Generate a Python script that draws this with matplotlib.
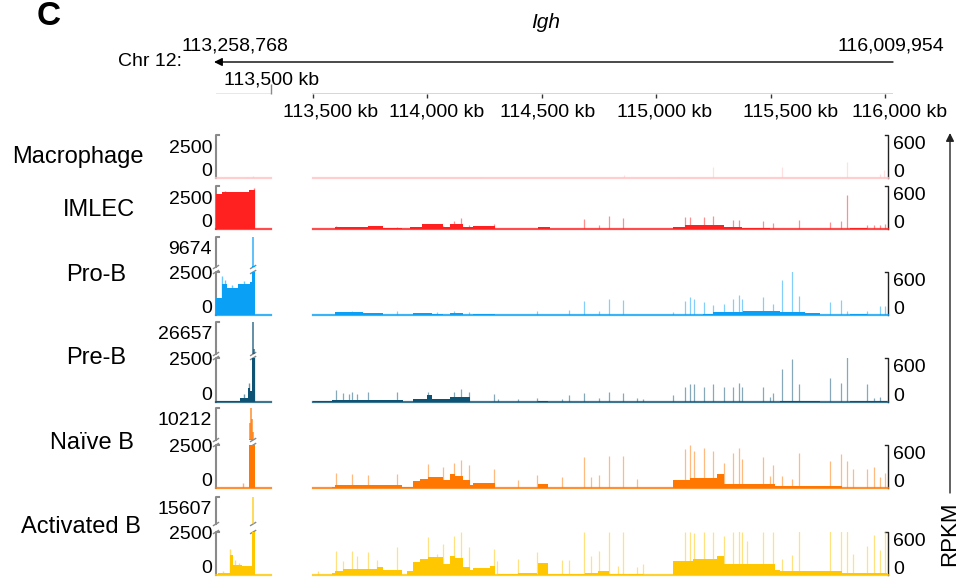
import matplotlib
matplotlib.use('Agg')
import matplotlib.pyplot as plt

plt.rcParams['font.family'] = ['Liberation Sans', 'DejaVu Sans']

W, H = 966, 581

# ---------------- data: positions in kb, signal in RPKM ----------------
chr_start = 113258.768
chr_end = 116009.954
split_kb = 113500.0          # left (zoomed y) panel | right panel
hdr_ticks = [113500, 114000, 114500, 115000, 115500, 116000]
hdr_labels = ['113,500 kb', '114,000 kb', '114,500 kb', '115,000 kb', '115,500 kb', '116,000 kb']

track_names = ['Macrophage', 'IMLEC', 'Pro-B', 'Pre-B', 'Naïve B', 'Activated B']
track_colors = ['#FFC2C2', '#FF2020', '#0AA0F6', '#0E5274', '#FF7600', '#FFC700']
left_ticks = [0, 2500]
left_max = [2500, 2500, 9674, 26657, 10212, 15607]
right_ticks = [0, 600]

# left panel (113,258,768 - 113,500 kb)
mac_left = [(113258.8, 113430, 15)]
mac_left_spk = [(113395, 40), (113419, 110)]
imlec_left = [(113258.8, 113283, 2050), (113283, 113360, 2150), (113360, 113405, 2170), (113405, 113429, 2250)]
imlec_left_spk = [(113300, 2200), (113427, 2400)]
prob_left = [(113258.8, 113283, 990), (113283, 113305, 1790), (113305, 113356, 1590),
             (113356, 113407, 1790), (113407, 113417, 1890), (113417, 113429, 2700)]
prob_left_spk = [(113286, 2260), (113296, 2050), (113330, 1750), (113380, 1950), (113421, 9674)]
preb_left = [(113258.8, 113364, 40), (113364, 113400, 200), (113400, 113407, 800),
             (113407, 113415, 600), (113415, 113429, 2700)]
preb_left_spk = [(113380, 450), (113402, 1100), (113425, 6000), (113421, 26657)]
naive_left = [(113258.8, 113400, 20), (113403, 113429, 2700)]
naive_left_spk = [(113378, 290), (113409, 6500), (113416, 7500), (113420, 4500), (113413, 10212)]
act_left = [(113258.8, 113269, 20), (113269, 113320, 130), (113320, 113334, 1150),
            (113334, 113371, 600), (113371, 113415, 500), (113415, 113429, 2700)]
act_left_spk = [(113290, 250), (113322, 1500), (113340, 900), (113360, 700), (113421, 15607)]
peak_kb = 113421   # clipped peak that gets the break marks

# right panel (113,500 - 116,010 kb)
mac_blocks = []
mac_spk = [(114234, 15), (114861, 40), (115100, 12), (115247, 160), (115550, 160),
           (115833, 220), (115978, 50), (115994, 110)]

imlec_blocks = [(113596, 113742, 25), (113742, 113807, 35), (113807, 113888, 20), (113924, 113975, 30),
                (113975, 114070, 65), (114070, 114099, 30), (114099, 114157, 75), (114157, 114201, 25),
                (114201, 114296, 40), (114485, 114536, 30), (115072, 115126, 30), (115126, 115298, 50),
                (115298, 115374, 25), (115374, 115498, 20), (115847, 115920, 15)]
imlec_spk = [(113601, 35), (113669, 30), (113742, 25), (113869, 30), (114067, 35), (114116, 110),
             (114147, 160), (114183, 60), (114292, 75), (114686, 145), (114752, 60), (114795, 180),
             (114856, 160), (115126, 170), (115148, 170), (115210, 170), (115250, 175), (115337, 130),
             (115363, 130), (115466, 110), (115512, 90), (115626, 120), (115760, 95), (115807, 110),
             (115833, 480), (115920, 60), (115952, 55), (115978, 60), (116000, 70)]

prob_blocks = [(113596, 113720, 35), (113720, 113807, 25), (113938, 114019, 30), (114019, 114070, 20),
               (114099, 114157, 25), (114201, 114296, 8), (115206, 115250, 15), (115250, 115381, 45),
               (115381, 115541, 55), (115541, 115650, 40), (115650, 115716, 25), (115847, 115920, 15)]
prob_spk = [(113601, 45), (113633, 40), (113669, 50), (113869, 50), (114041, 40), (114116, 50),
            (114183, 45), (114478, 50), (114620, 70), (114686, 195), (114752, 60), (114795, 230),
            (114856, 215), (115072, 40), (115126, 195), (115148, 255), (115167, 225), (115210, 185),
            (115250, 140), (115298, 150), (115337, 225), (115363, 275), (115374, 225), (115466, 245),
            (115512, 150), (115549, 490), (115595, 620), (115626, 270), (115760, 180), (115807, 215),
            (115833, 60), (115920, 60), (115978, 120), (116000, 125)]

preb_blocks = [(113501, 113582, 10), (113582, 113895, 25), (113938, 113997, 40), (113997, 114019, 90),
               (114019, 114099, 40), (114099, 114186, 70), (114485, 114529, 15), (115541, 115716, 15),
               (115847, 116008, 20)]
preb_spk = [(113601, 160), (113633, 120), (113659, 110), (113669, 130), (113694, 110), (113742, 130),
            (113869, 130), (114001, 135), (114116, 135), (114147, 175), (114183, 130), (114292, 110),
            (114310, 40), (114397, 35), (114478, 60), (114587, 40), (114620, 95), (114686, 125),
            (114752, 55), (114795, 135), (114856, 125), (114915, 50), (114944, 40), (115072, 95),
            (115126, 205), (115148, 250), (115167, 240), (115210, 205), (115250, 250), (115298, 205),
            (115337, 205), (115363, 260), (115374, 200), (115466, 205), (115498, 70), (115512, 125),
            (115549, 450), (115595, 590), (115626, 245), (115760, 330), (115807, 260), (115833, 620),
            (115920, 245), (115952, 60), (115978, 70)]

naive_blocks = [(113582, 113596, 20), (113596, 113888, 45), (113888, 113938, 15), (113938, 113968, 100),
                (113968, 114004, 125), (114004, 114070, 160), (114070, 114099, 115), (114099, 114121, 195),
                (114121, 114157, 170), (114157, 114186, 115), (114186, 114201, 45), (114201, 114296, 70),
                (114485, 114529, 55), (115072, 115148, 115), (115148, 115265, 145), (115265, 115297, 195),
                (115297, 115374, 60), (115374, 115520, 55), (115520, 115541, 25), (115541, 115811, 25)]
naive_spk = [(113601, 205), (113669, 200), (113742, 175), (113869, 195), (114001, 340), (114067, 295),
             (114116, 355), (114147, 395), (114183, 315), (114292, 265), (114397, 115), (114478, 180),
             (114587, 160), (114686, 430), (114715, 160), (114752, 180), (114795, 450), (114856, 450),
             (114915, 125), (115126, 545), (115148, 600), (115167, 515), (115210, 565), (115250, 515),
             (115298, 345), (115337, 490), (115363, 565), (115374, 410), (115466, 430), (115498, 170),
             (115512, 320), (115549, 165), (115595, 130), (115626, 490), (115760, 375), (115807, 475),
             (115833, 370), (115862, 270), (115920, 270), (115952, 290), (115978, 160), (116000, 210)]

act_blocks = [(113582, 113596, 30), (113596, 113633, 55), (113633, 113778, 85), (113778, 113807, 105),
              (113807, 113888, 70), (113909, 113938, 55), (113938, 113968, 180), (113968, 114004, 225),
              (114004, 114070, 250), (114070, 114099, 155), (114099, 114121, 260), (114121, 114157, 240),
              (114157, 114186, 115), (114186, 114201, 75), (114201, 114274, 100), (114274, 114296, 120),
              (114310, 114397, 15), (114397, 114478, 25), (114485, 114529, 165), (114529, 114689, 10),
              (114689, 114744, 25), (114744, 114795, 60), (114795, 114944, 10), (115072, 115162, 195),
              (115162, 115265, 225), (115265, 115297, 270), (115297, 115520, 160), (115520, 115541, 75),
              (115541, 115811, 50), (115811, 116008, 25)]
act_spk = [(113523, 60), (113601, 330), (113633, 200), (113669, 340), (113694, 260), (113742, 320),
           (113778, 210), (113869, 385), (114001, 525), (114041, 300), (114067, 430), (114116, 545),
           (114147, 600), (114183, 390), (114292, 360), (114306, 200), (114397, 230), (114478, 320),
           (114587, 210), (114620, 210), (114686, 600), (114715, 260), (114752, 330), (114795, 600),
           (114835, 120), (114856, 600), (114915, 110), (114944, 160), (115126, 600), (115148, 600),
           (115167, 590), (115210, 600), (115250, 600), (115298, 545), (115337, 605), (115363, 615),
           (115374, 605), (115395, 470), (115466, 600), (115512, 600), (115549, 230), (115595, 280),
           (115626, 620), (115760, 620), (115807, 620), (115833, 620), (115862, 300), (115920, 400),
           (115952, 560), (115978, 350), (116000, 620)]

left_data = [(mac_left, mac_left_spk), (imlec_left, imlec_left_spk), (prob_left, prob_left_spk),
             (preb_left, preb_left_spk), (naive_left, naive_left_spk), (act_left, act_left_spk)]
right_data = [(mac_blocks, mac_spk), (imlec_blocks, imlec_spk), (prob_blocks, prob_spk),
              (preb_blocks, preb_spk), (naive_blocks, naive_spk), (act_blocks, act_spk)]

# ---------------- layout (pixels, y from top) ----------------
KBPX = (885 - 313) / 2500.0
LX0 = 216
LX1 = LX0 + (split_kb - chr_start) * KBPX
RX0, RX1 = 313, 888
# (upper_top, upper_bottom, top, base)
rows = [(None, None, 135, 178), (None, None, 186, 229), (237, 267, 272, 315),
        (322, 354, 358, 402), (408, 440, 445, 488), (497, 524, 532, 575)]
label_xy = [(78, 157), (99, 210), (96, 275), (96, 358), (92, 443), (81, 527)]
hdr_label_dx = [18, 9, 6, 8, 20, 15]
GRAY = '#8a8a8a'


def px_axes(x0, y0, x1, y1):
    a = fig.add_axes([x0 / W, 1 - y1 / H, (x1 - x0) / W, (y1 - y0) / H])
    a.set_axis_off()
    return a


def draw(ax, blocks, spikes, color, base=True, spk_lw=0.9, spk_a=0.5):
    if blocks:
        s = [b[0] for b in blocks]
        ax.bar(s, [b[2] for b in blocks], width=[b[1] - b[0] for b in blocks],
               align='edge', color=color, linewidth=0)
    if spikes:
        ax.vlines([p for p, v in spikes], 0, [v for p, v in spikes],
                  colors=color, lw=spk_lw, alpha=spk_a)
    if base:
        ax.axhline(0, color=color, lw=1.6, alpha=0.8, clip_on=False)


def ylab(ax, val, txt, side, dy):
    x, dx, ha = (0, -4, 'right') if side == 'l' else (1, 5, 'left')
    ax.annotate(txt, xy=(x, val), xycoords=('axes fraction', 'data'), xytext=(dx, dy),
                textcoords='offset pixels', ha=ha, va='baseline', fontsize=14)


fig = plt.figure(figsize=(W / 100, H / 100), dpi=100)
ov = fig.add_axes([0, 0, 1, 1])
ov.set_xlim(0, W)
ov.set_ylim(H, 0)
ov.set_axis_off()

# header
ov.text(49, 1, 'C', fontsize=24, fontweight='bold', ha='center', va='top')
ov.text(546, 23, 'Igh', fontsize=15, style='italic', ha='center', va='center')
ov.text(150, 62, 'Chr 12:', fontsize=14, ha='center', va='center')
ov.text(235, 46, f'{round(chr_start * 1000):,}', fontsize=14, ha='center', va='center')
ov.text(891, 46, f'{round(chr_end * 1000):,}', fontsize=14, ha='center', va='center')
ov.annotate('', xy=(LX0 - 2, 62), xytext=(893, 62),
            arrowprops=dict(arrowstyle='-|>', lw=1, color='black', shrinkA=0, shrinkB=0,
                            mutation_scale=12))

# scale for left panel
sax = px_axes(LX0, 84, LX1, 94)
sax.set_xlim(chr_start, split_kb)
sax.axhline(0, color=GRAY, lw=1)
sax.vlines([split_kb], 0, 0.35, colors=GRAY, lw=1, clip_on=False)
sax.annotate(f'{split_kb:,.0f} kb', xy=(split_kb, 0), xycoords=('data', 'axes fraction'),
             xytext=(0, 14), textcoords='offset pixels', ha='center', va='center', fontsize=14)

# genomic axis for right panel
hax = px_axes(312, 84, 893, 94)
hax.set_xlim(split_kb - 1 / KBPX, split_kb + (893 - RX0) / KBPX)
hax.set_ylim(0, 1)
hax.axhline(0, color='#333333', lw=1)
hax.vlines(hdr_ticks, -0.4, 0, colors='#333333', lw=1, clip_on=False)
for t, lab, dx in zip(hdr_ticks, hdr_labels, hdr_label_dx):
    hax.annotate(lab, xy=(t, 0), xycoords=('data', 'axes fraction'), xytext=(dx, -18),
                 textcoords='offset pixels', ha='center', va='center', fontsize=14)

# tracks
spx = LX0 + (peak_kb - chr_start) * KBPX
for i, name in enumerate(track_names):
    ut, ub, top, base = rows[i]
    col = track_colors[i]
    lb, ls = left_data[i]
    rb, rs = right_data[i]

    ax_l = px_axes(LX0, top, LX1, base)
    ax_l.set_xlim(chr_start, split_kb)
    ax_l.set_ylim(left_ticks[0], left_ticks[1])
    draw(ax_l, lb, ls, col, spk_lw=1.0, spk_a=0.6)
    ylab(ax_l, left_ticks[0], '0', 'l', 2)

    ax_r = px_axes(RX0, top, RX1, base)
    ax_r.set_xlim(split_kb, split_kb + (RX1 - RX0) / KBPX)
    ax_r.set_ylim(right_ticks[0], right_ticks[1])
    draw(ax_r, rb, rs, col)
    ylab(ax_r, right_ticks[0], '0', 'r', 1)
    ylab(ax_r, right_ticks[1], str(right_ticks[1]), 'r', -14)
    ov.plot([RX1 - 3, RX1, RX1], [top, top, base], color='#222222', lw=1)

    if ut is None:
        ylab(ax_l, left_ticks[1], str(left_ticks[1]), 'l', -18)
        ov.plot([LX0 + 3, LX0, LX0], [top, top, base], color=GRAY, lw=1.5)
    else:
        ylab(ax_l, left_ticks[1], str(left_ticks[1]), 'l', -7)
        ax_u = px_axes(LX0, ut, LX1, ub)
        ax_u.set_xlim(chr_start, split_kb)
        ax_u.set_ylim(left_ticks[1], left_max[i])
        draw(ax_u, lb, ls, col, base=False, spk_lw=1.3, spk_a=0.7)
        ylab(ax_u, left_max[i], str(left_max[i]), 'l', -17)
        ov.plot([LX0 + 3, LX0, LX0], [ut, ut, ub], color=GRAY, lw=1.5)
        ov.plot([LX0 + 3, LX0, LX0], [top, top, base], color=GRAY, lw=1.5)
        # break marks on the axis and on the clipped peak
        for xb in (LX0, spx):
            for yb in (ub, top):
                ov.plot([xb - 2.5, xb + 2.5], [yb + 1.5, yb - 1.5], color=GRAY, lw=1)

    ov.text(label_xy[i][0], label_xy[i][1], name, fontsize=17, ha='center', va='center')

# RPKM arrow
ov.annotate('', xy=(950, 133), xytext=(950, 493),
            arrowprops=dict(arrowstyle='-|>', lw=1, color='#222222', shrinkA=0, shrinkB=0,
                            mutation_scale=12))
ov.text(950, 534, 'RPKM', rotation=90, fontsize=16, ha='center', va='center')

fig.savefig('out.png', dpi=100)
